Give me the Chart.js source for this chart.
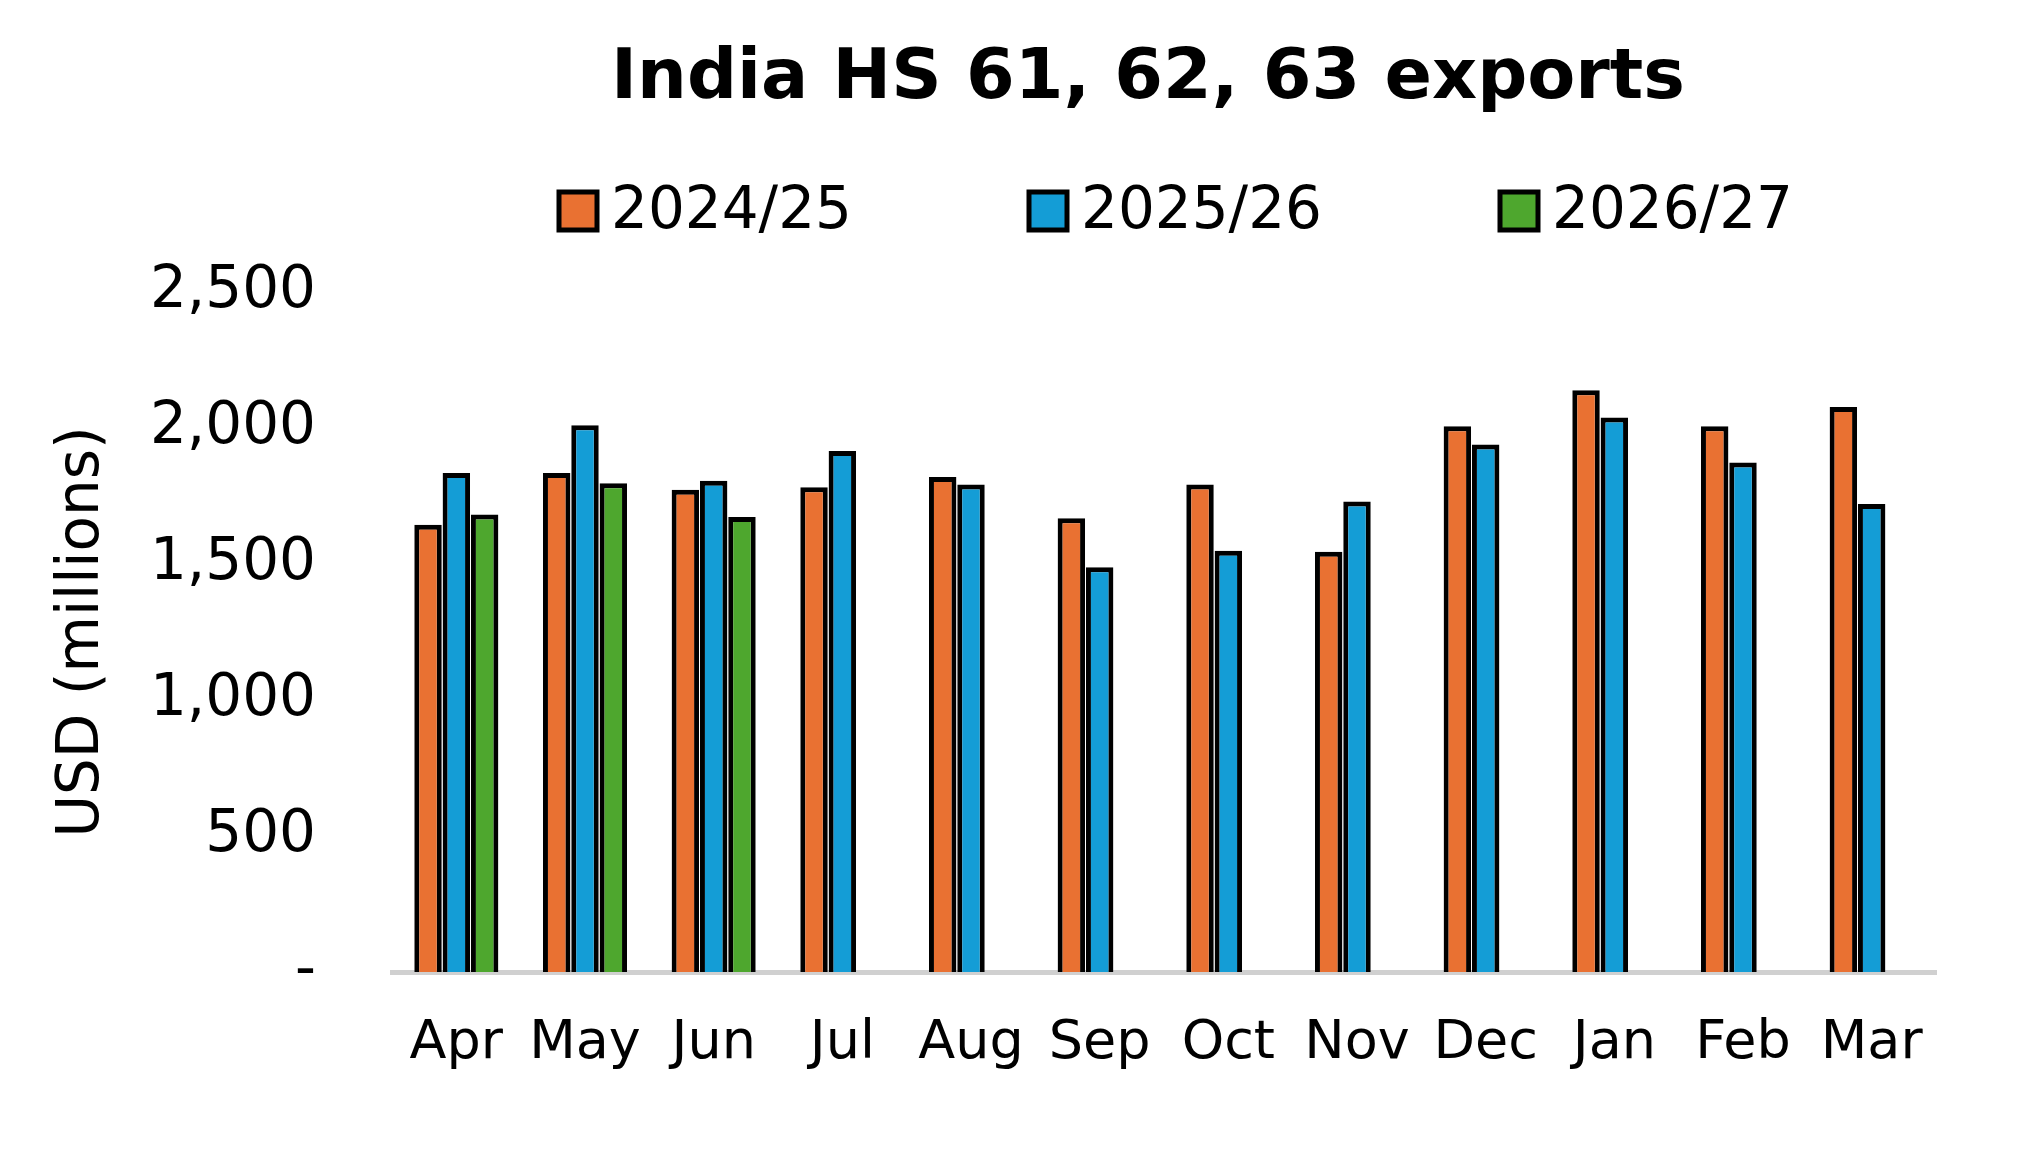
<!DOCTYPE html>
<html>
<head>
<meta charset="utf-8">
<script src="https://cdn.jsdelivr.net/npm/chart.js@4"></script>
<style>
  html, body { margin: 0; padding: 0; background: #fff; }
  #wrap { width: 2040px; height: 1165px; }
</style>
</head>
<body>
<div id="wrap"><canvas id="chart"></canvas></div>
<script>
// data
const months = ['Apr', 'May', 'Jun', 'Jul', 'Aug', 'Sep', 'Oct', 'Nov', 'Dec', 'Jan', 'Feb', 'Mar'];
const fy2425 = [1644, 1835, 1773, 1782, 1820, 1668, 1792, 1545, 2006, 2139, 2006, 2077];
const fy2526 = [1835, 2010, 1806, 1915, 1792, 1488, 1549, 1730, 1939, 2039, 1873, 1721];
const fy2627 = [1682, 1797, 1673, null, null, null, null, null, null, null, null, null];
const yTicks = [0, 500, 1000, 1500, 2000, 2500];

const FONT = '"DejaVu Sans", Verdana, sans-serif';

// title + legend drawn above the plot area
const headerPlugin = {
  id: 'header',
  afterDraw(chart) {
    const c = chart.ctx;
    c.save();
    c.fillStyle = '#000';
    c.textAlign = 'center';
    c.textBaseline = 'middle';
    c.font = 'bold 70px ' + FONT;
    c.fillText('India HS 61, 62, 63 exports', 1148, 80);
    const starts = [559, 1029, 1500];
    c.font = '58px ' + FONT;
    c.textAlign = 'left';
    chart.data.datasets.forEach((ds, i) => {
      const x = starts[i], y = 211;
      c.fillStyle = ds.backgroundColor;
      c.fillRect(x, y - 19, 38, 38);
      c.lineWidth = 5;
      c.strokeStyle = '#000';
      c.strokeRect(x, y - 19, 38, 38);
      c.fillStyle = '#000';
      c.fillText(ds.label, x + 52, y + 2);
    });
    c.restore();
  }
};

const barStyle = { borderColor: '#000', borderWidth: 5, barPercentage: 0.97, categoryPercentage: 0.66 };

new Chart(document.getElementById('chart'), {
  type: 'bar',
  data: {
    labels: months,
    datasets: [
      { label: '2024/25', data: fy2425, backgroundColor: '#E97132', ...barStyle },
      { label: '2025/26', data: fy2526, backgroundColor: '#149DD6', ...barStyle },
      { label: '2026/27', data: fy2627, backgroundColor: '#4EA72E', ...barStyle }
    ]
  },
  options: {
    responsive: true,
    maintainAspectRatio: false,
    animation: false,
    layout: { padding: { top: 292, right: 104, left: 0, bottom: 0 } },
    plugins: { legend: { display: false }, title: { display: false }, tooltip: { enabled: false } },
    scales: {
      x: {
        grid: { display: false, drawTicks: false },
        border: { color: '#d0d0d0', width: 5 },
        ticks: { color: '#000', font: { family: FONT, size: 54 }, padding: 40, maxRotation: 0, autoSkip: false },
        afterFit(s) { s.height = 193; }
      },
      y: {
        min: 0, max: 2500,
        afterBuildTicks(s) { s.ticks = yTicks.map(v => ({ value: v })); },
        grid: { display: false, drawTicks: false },
        border: { display: false },
        ticks: {
          color: '#000', font: { family: FONT, size: 58 }, padding: 76,
          callback: v => v === 0 ? '-' : v.toLocaleString('en-US')
        },
        title: { display: true, text: 'USD (millions)', color: '#000', font: { family: FONT, size: 58 }, padding: { top: 48, bottom: 0 } },
        afterFit(s) { s.width = 392; }
      }
    }
  },
  plugins: [headerPlugin]
});
</script>
</body>
</html>
